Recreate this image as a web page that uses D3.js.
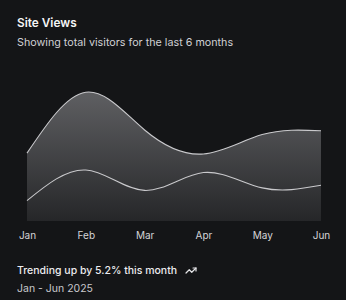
<!DOCTYPE html>
<html><head><meta charset="utf-8">
<script src="https://cdn.jsdelivr.net/npm/d3@7"></script>
<style>
html,body{margin:0;padding:0;background:#141517;}
svg{display:block;font-family:Inter, "Noto Sans", sans-serif;}
</style></head>
<body>
<svg id="c" width="346" height="300"></svg>
<script>
const months = ["Jan","Feb","Mar","Apr","May","Jun"];
const mobile = [80, 200, 120, 190, 130, 140];
const desktop = [186, 305, 237, 73, 209, 214];
const yDomainMax = 600;
const title = "Site Views";
const subtitle = "Showing total visitors for the last 6 months";
const footer1 = "Trending up by 5.2% this month";
const footer2 = "Jan - Jun 2025";

const svg = d3.select("#c");
svg.append("rect").attr("width",346).attr("height",300).attr("fill","#141517");

const data = months.map((m,i)=>({month:m, mobile:mobile[i], desktop:desktop[i]}));
const stack = d3.stack().keys(["mobile","desktop"]);
const series = stack(data);

const x = d3.scalePoint().domain(months).range([27, 321]);
const y = d3.scaleLinear().domain([0, yDomainMax]).range([221, 68]);

const maxTotal = d3.max(data, d=>d.mobile+d.desktop);
const defs = svg.append("defs");
const g = defs.append("linearGradient").attr("id","fill")
  .attr("gradientUnits","userSpaceOnUse")
  .attr("x1",0).attr("x2",0).attr("y1",y(maxTotal)).attr("y2",y(0));
g.append("stop").attr("offset","0%").attr("stop-color","#d8d8dc").attr("stop-opacity",0.38);
g.append("stop").attr("offset","100%").attr("stop-color","#d8d8dc").attr("stop-opacity",0.09);

const area = d3.area().curve(d3.curveNatural)
  .x((d,i)=>x(months[i])).y0(d=>y(d[0])).y1(d=>y(d[1]));
const line = d3.line().curve(d3.curveNatural)
  .x((d,i)=>x(months[i])).y(d=>y(d[1]));

svg.append("g").selectAll("path.a").data(series).join("path")
  .attr("class","a").attr("d",area).attr("fill","url(#fill)");
svg.append("g").selectAll("path.l").data(series).join("path")
  .attr("class","l").attr("d",line).attr("fill","none")
  .attr("stroke","#c9c9cc").attr("stroke-width",1.1);

const xAxis = svg.append("g").attr("transform","translate(0,228)")
  .call(d3.axisBottom(x).tickSize(0).tickPadding(0));
xAxis.select(".domain").remove();
xAxis.selectAll("text").attr("fill","#d4d4d8").attr("font-size","10px")
  .attr("font-family","Inter, sans-serif").attr("dy","11px");

svg.append("text").attr("x",17).attr("y",27).attr("fill","#f4f4f5")
  .attr("font-size","11.8px").attr("font-weight",600).text(title);
svg.append("text").attr("x",17).attr("y",46).attr("fill","#d0d0d4")
  .attr("font-size","10.75px").text(subtitle);
svg.append("text").attr("x",17).attr("y",274).attr("fill","#ececef")
  .attr("font-size","10.5px").attr("font-weight",500).text(footer1);
svg.append("text").attr("x",17).attr("y",292).attr("fill","#c8c8cc")
  .attr("font-size","10.5px").text(footer2);

// trending-up icon
const ic = svg.append("g").attr("transform","translate(185,264.5) scale(0.5)")
  .attr("fill","none").attr("stroke","#e4e4e7").attr("stroke-width",2.4)
  .attr("stroke-linecap","round").attr("stroke-linejoin","round");
ic.append("polyline").attr("points","22 7 13.5 15.5 8.5 10.5 2 17");
ic.append("polyline").attr("points","16 7 22 7 22 13");
</script>
</body></html>
